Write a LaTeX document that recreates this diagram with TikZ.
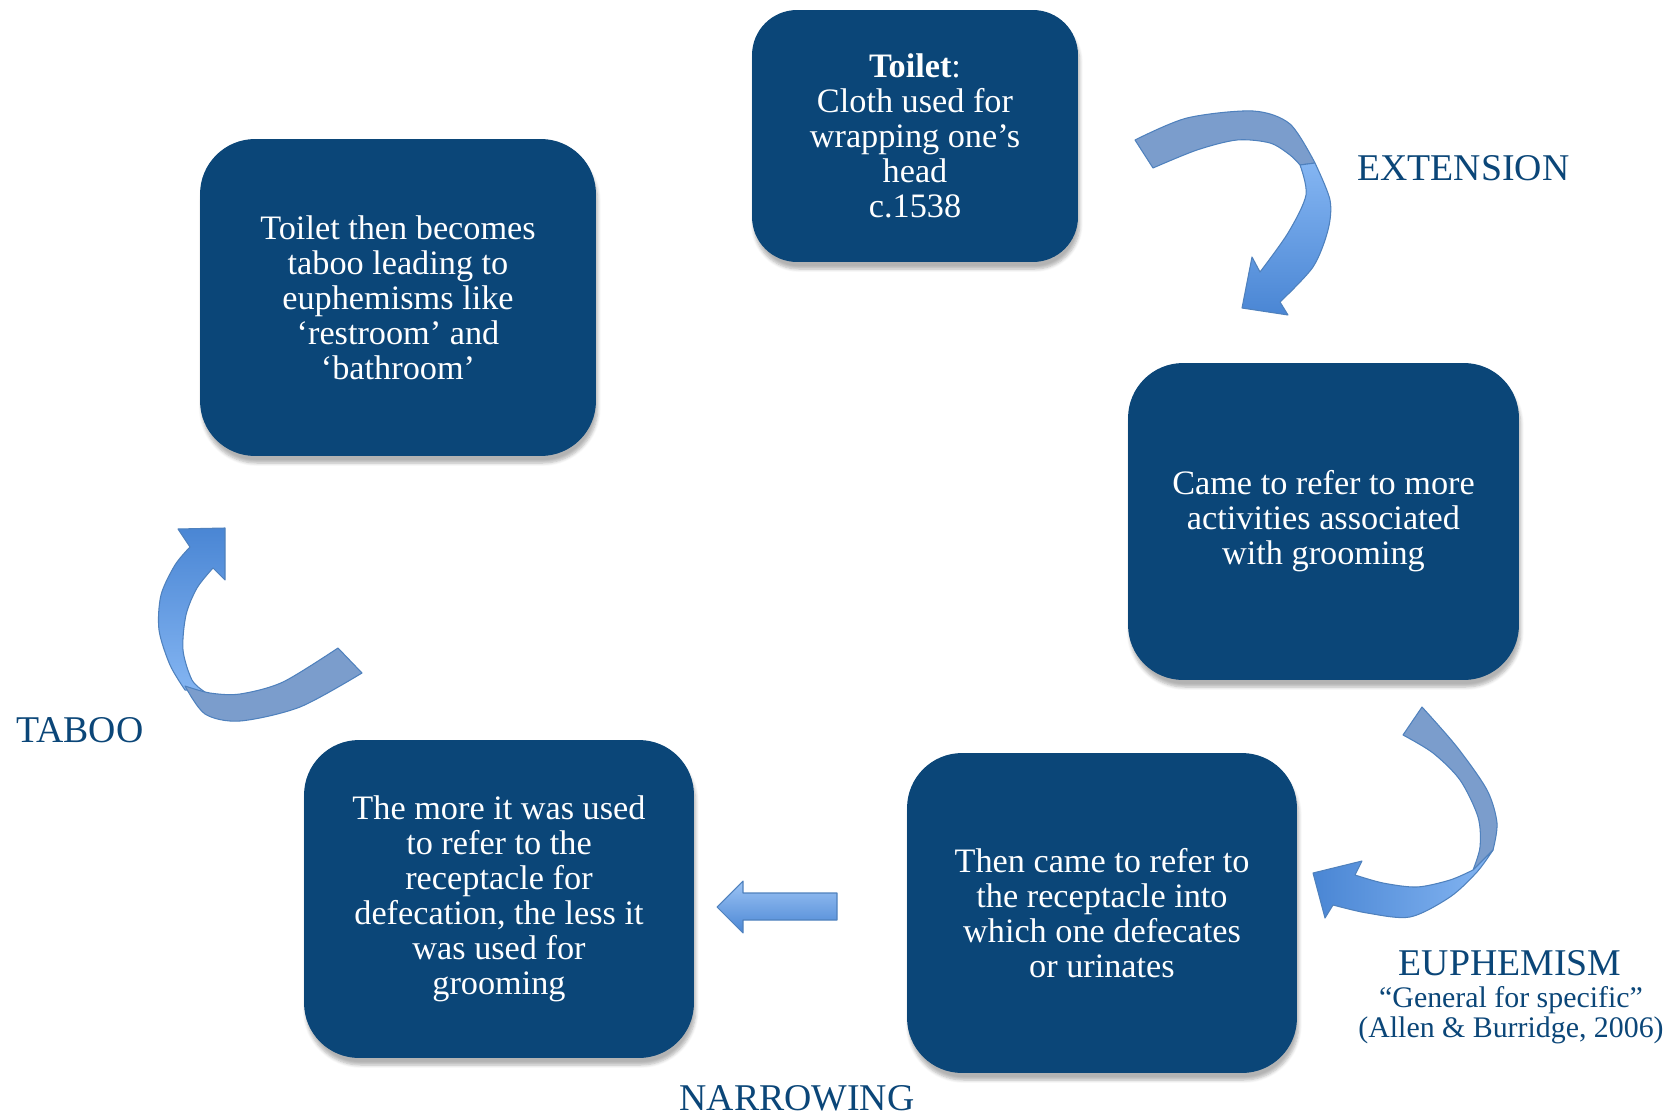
\documentclass[tikz,border=0pt]{standalone}
\usepackage{fontspec}
\setmainfont{Liberation Serif}
\usepackage{xcolor}
\usepackage{tikz}
\usetikzlibrary{calc}
\usetikzlibrary{shadows.blur}
\definecolor{boxblue}{HTML}{0B4678}
\definecolor{arrline}{HTML}{4F81BD}
\definecolor{arrlight}{HTML}{84B5F2}
\definecolor{arrdark}{HTML}{4A86D4}
\definecolor{arrback}{HTML}{7B9DCC}
\tikzset{box/.style={rounded corners=1.1cm, fill=boxblue, text=white, align=center,
  font=\fontsize{19.5}{19.9}\selectfont,
  blur shadow={shadow xshift=1pt, shadow yshift=-4pt, shadow blur steps=6, shadow opacity=30}}}
\tikzset{lbl/.style={text=boxblue, font=\fontsize{21.5}{22}\selectfont, inner sep=0}}
\tikzset{sublbl/.style={text=boxblue, font=\fontsize{17}{18}\selectfont, inner sep=0}}
\tikzset{back/.style={fill=arrback, draw=arrline, line width=.6pt, line join=round}}
\tikzset{front/.style={draw=arrline, line width=.6pt, line join=round}}

\begin{document}
\begin{tikzpicture}[x=0.02cm, y=-0.02cm]
\useasboundingbox (0,0) rectangle (1667,1115);
\node[box, rounded corners=0.9cm, minimum width=6.52cm, minimum height=5.04cm] (cloth) at (915,136)
  {\textbf{Toilet}:\\Cloth used for\\wrapping one’s\\head\\c.1538};
\node[box, minimum width=7.82cm, minimum height=6.34cm] (groom) at (1323.5,521.5)
  {Came to refer to more\\activities associated\\with grooming};
\node[box, minimum width=7.8cm, minimum height=6.4cm] (recept) at (1102,913)
  {Then came to refer to\\the receptacle into\\which one defecates\\or urinates};
\node[box, minimum width=7.8cm, minimum height=6.36cm] (defec) at (499,899)
  {The more it was used\\to refer to the\\receptacle for\\defecation, the less it\\was used for\\grooming};
\node[box, minimum width=7.92cm, minimum height=6.34cm] (tabu) at (398,297.5)
  {Toilet then becomes\\taboo leading to\\euphemisms like\\‘restroom’ and\\‘bathroom’};

\node[lbl, anchor=base west] (ext) at (1357,180) {EXTENSION};
\node[lbl, anchor=base] (euph) at (1510,975) {EUPHEMISM};
\node[sublbl, anchor=base] (gen) at (1511,1007) {“General for specific”};
\node[sublbl, anchor=base] (allen) at (1511,1037) {(Allen \& Burridge, 2006)};
\node[lbl, anchor=base] (tab) at (80,742) {TABOO};
\node[lbl, anchor=base] (narrow) at (797,1110) {NARROWING};

\draw[back] (1135,140) -- plot[smooth] coordinates {(1135,140) (1187,118) (1253,111) (1290,124) (1315,163)}
  -- (1300,165) -- plot[smooth] coordinates {(1300,165) (1290,155) (1270,143) (1237,140) (1197,150) (1153,168)} -- cycle;
\draw[front, top color=arrlight, bottom color=arrdark] (1300,165)
  -- plot[smooth] coordinates {(1300,165) (1306,195) (1288,233) (1260,272)}
  -- (1252,257) -- (1242,308) -- (1288,315) -- (1280,302)
  -- plot[smooth] coordinates {(1280,302) (1313,267) (1328,230) (1330,200) (1315,163)} -- cycle;

\draw[back] (1422,707) -- plot[smooth] coordinates {(1422,707) (1457,747) (1487,790) (1497,823) (1493,850)}
  -- (1473,870) -- plot[smooth] coordinates {(1473,870) (1480,847) (1478,817) (1460,780) (1433,753) (1403,735)} -- cycle;
\draw[front, left color=arrdark, right color=arrlight] (1493,850)
  -- plot[smooth] coordinates {(1493,850) (1477,872) (1450,897) (1410,917) (1367,913) (1333,905)}
  -- (1325,918) -- (1313,873) -- (1362,861) -- (1355,875)
  -- plot[smooth] coordinates {(1355,875) (1383,883) (1417,887) (1450,880) (1473,870)} -- cycle;

\draw[front, top color=arrdark, bottom color=arrlight] (185,690)
  -- plot[smooth] coordinates {(185,690) (170,665) (159,630) (161,595) (175,565) (190,547)}
  -- (178,529) -- (225,528) -- (225,580) -- (213,568)
  -- plot[smooth] coordinates {(213,568) (197,588) (186,615) (183,650) (192,680) (205,692)} -- cycle;
\draw[back] (185,686) -- plot[smooth] coordinates {(185,686) (210,693) (240,694) (283,682) (338,648)}
  -- (362,673) -- plot[smooth] coordinates {(362,673) (300,707) (240,721) (205,714) (185,686)} -- cycle;

\draw[front, top color=arrlight!80!white, bottom color=arrdark] (837,893) -- (743,893) -- (743,881)
  -- (717,907) -- (743,933) -- (743,920) -- (837,920) -- cycle;
\end{tikzpicture}
\end{document}
